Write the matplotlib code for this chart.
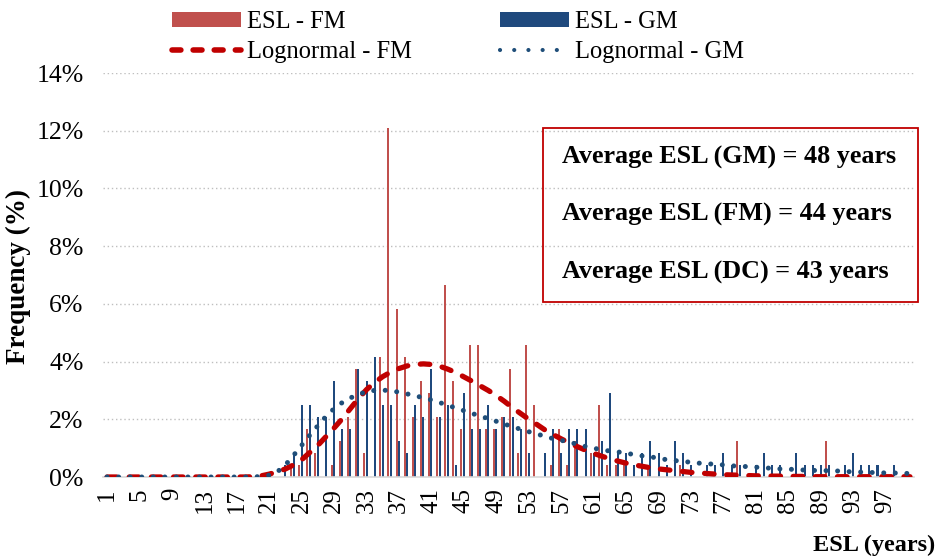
import matplotlib
matplotlib.use("Agg")
import matplotlib.pyplot as plt
from matplotlib.patches import Patch, Rectangle
from matplotlib.lines import Line2D
import numpy as np

categories = list(range(1, 101))
tick_labels = [str(c) for c in range(1, 101, 4)]

esl_fm = [0]*23 + [
    0.42, 0.42, 1.67, 0.83, 0, 0.42, 1.25, 2.08, 3.75, 0.83,   # 24-33
    0, 4.17, 12.08, 5.83, 4.17, 2.08, 3.33, 2.92, 2.08, 6.67,   # 34-43
    3.33, 1.67, 4.58, 4.58, 1.67, 1.67, 2.08, 3.75, 0.83, 4.58, # 44-53
    2.5, 0, 0.42, 1.67, 0.42, 1.25, 0, 0.83, 2.5, 0.42,         # 54-63
    0.42, 0.42, 0, 0, 0.42, 0, 0, 0, 0.42, 0,                    # 64-73
    0, 0, 0, 0, 0, 1.25, 0, 0, 0, 0,                              # 74-83
    0, 0, 0, 0, 0, 0, 1.25, 0, 0, 0,                              # 84-93
    0, 0, 0, 0, 0, 0, 0]                                          # 94-100

esl_gm = [0]*22 + [
    0.42, 0.83, 2.5, 2.5, 2.08, 2.08, 3.33, 1.67, 1.67, 3.75,   # 23-32
    3.33, 4.17, 2.5, 2.5, 1.25, 0.83, 2.5, 2.08, 3.75, 2.08,    # 33-42
    2.5, 0.42, 2.92, 1.67, 1.67, 2.5, 1.67, 2.08, 2.08, 1.67,   # 43-52
    0.83, 0, 0.83, 1.67, 0.83, 1.67, 1.67, 1.67, 0.83, 1.25,    # 53-62
    2.92, 0.83, 0.83, 0.42, 0.83, 1.25, 0.83, 0.42, 1.25, 0.83, # 63-72
    0.42, 0, 0.42, 0.42, 0.83, 0.42, 0.42, 0, 0.42, 0.83,       # 73-82
    0.42, 0.42, 0, 0.83, 0.42, 0.42, 0.42, 0.42, 0, 0.42,       # 83-92
    0.83, 0.42, 0.42, 0.42, 0, 0.42, 0, 0]                      # 93-100

logn_fm = [0]*18 + [
    0.01, 0.04, 0.1, 0.18, 0.28, 0.42, 0.6, 0.85, 1.1, 1.4,      # 19-28
    1.7, 2.02, 2.37, 2.72, 3.03, 3.28, 3.48, 3.64, 3.76, 3.85,  # 29-38
    3.9, 3.92, 3.9, 3.84, 3.74, 3.62, 3.47, 3.32, 3.16, 3.0,    # 39-48
    2.82, 2.62, 2.4, 2.2, 2.0, 1.82, 1.63, 1.47, 1.32, 1.18,    # 49-58
    1.05, 0.93, 0.82, 0.72, 0.63, 0.55, 0.48, 0.42, 0.37, 0.32, # 59-68
    0.28, 0.25, 0.22, 0.19, 0.16, 0.14, 0.12, 0.1, 0.08, 0.07,  # 69-78
    0.06, 0.05, 0.04, 0.04, 0.03, 0.03, 0.02, 0.02, 0.02, 0.01, # 79-88
    0.01, 0.01, 0.01, 0.01, 0.01, 0.01, 0.01, 0.01, 0.01, 0.01, # 89-98
    0.01, 0.01]                                                  # 99-100

logn_gm = [0]*19 + [
    0.02, 0.06, 0.18, 0.42, 0.75, 1.1, 1.45, 1.78, 2.1, 2.37,   # 20-29
    2.58, 2.74, 2.86, 2.96, 3.0, 3.01, 2.99, 2.94, 2.88, 2.81,  # 30-39
    2.75, 2.67, 2.58, 2.49, 2.39, 2.3, 2.2, 2.12, 2.02, 1.93,   # 40-49
    1.83, 1.75, 1.65, 1.57, 1.49, 1.41, 1.33, 1.27, 1.21, 1.13, # 50-59
    1.06, 1.0, 0.94, 0.9, 0.87, 0.82, 0.78, 0.73, 0.7, 0.65,    # 60-69
    0.6, 0.57, 0.54, 0.51, 0.48, 0.46, 0.44, 0.42, 0.39, 0.37,  # 70-79
    0.36, 0.34, 0.32, 0.3, 0.28, 0.27, 0.26, 0.24, 0.23, 0.22,  # 80-89
    0.22, 0.21, 0.19, 0.18, 0.17, 0.16, 0.15, 0.14, 0.14, 0.13, # 90-99
    0.12]                                                        # 100

avg_texts = ["Average ESL (GM) = 48 years",
             "Average ESL (FM) = 44 years",
             "Average ESL (DC) = 43 years"]

RED_BAR = "#C0504D"
BLUE_BAR = "#1F497D"
RED_LINE = "#C00000"
BLUE_LINE = "#1F4E79"
SERIF = ["Liberation Serif", "DejaVu Serif"]

plt.rcParams["font.family"] = SERIF

fig = plt.figure(figsize=(9.46, 5.58), dpi=100)
ax = fig.add_axes([103/946, 1-477/558, (914-103)/946, (477-73)/558])

x = np.array(categories, dtype=float)
ax.bar(x - 0.3, esl_fm, width=0.25, color=RED_BAR, zorder=2, linewidth=0)
ax.bar(x, esl_gm, width=0.25, color=BLUE_BAR, zorder=2, linewidth=0)

ax.plot(x, logn_fm, color=RED_LINE, lw=3.8, linestyle=(0, (1.8, 2.4)),
        dash_capstyle="round", zorder=3)
ax.plot(x, logn_gm, color=BLUE_LINE, lw=3.6, linestyle=(0, (0.01, 2.3)),
        dash_capstyle="round", zorder=4)

ax.set_xlim(0.5, 100.5)
ax.set_ylim(0, 14)
ax.set_yticks(range(0, 15, 2))
ax.set_yticklabels([f"{v}%" for v in range(0, 15, 2)], fontsize=18.5)
ax.set_xticks(range(1, 101, 4))
ax.set_xticklabels(tick_labels, rotation=90, fontsize=18)
ax.tick_params(axis="x", length=0, pad=8)
ax.tick_params(axis="y", length=0, pad=14)

for s in ["left", "right", "top"]:
    ax.spines[s].set_visible(False)
ax.spines["bottom"].set_color("#D9D9D9")
ax.spines["bottom"].set_linewidth(1.2)
ax.grid(axis="y", color="#BFBFBF", linestyle=(0, (1, 2)), linewidth=1.0, zorder=0)
ax.set_axisbelow(True)

fig.text(18/946, 1-276/558, "Frequency (%)", rotation=90, fontsize=19.5,
         fontweight="bold", ha="center", va="center")
fig.text(935/946, 1-545/558, "ESL (years)", fontsize=17.5, fontweight="bold",
         ha="right", va="center")

# annotation box
box = Rectangle((543/946, 1-302/558), (918-543)/946, (302-128)/558,
                transform=fig.transFigure, fill=False, edgecolor=RED_LINE,
                linewidth=1.3, zorder=5)
fig.patches.append(box)
for i, t in enumerate(avg_texts):
    fig.text(562/946, 1-(157+57.5*i)/558, t, fontsize=18.8, fontweight="bold",
             ha="left", va="center")

handles = [Patch(facecolor=RED_BAR, edgecolor="none"),
           Patch(facecolor=BLUE_BAR, edgecolor="none"),
           Line2D([], [], color=RED_LINE, lw=4.0, linestyle=(0, (1.6, 2.2)),
                  dash_capstyle="round"),
           Line2D([], [], color=BLUE_LINE, lw=3.0, linestyle=(0, (0.01, 3.4)),
                  dash_capstyle="round")]
labels = ["ESL - FM", "ESL - GM", "Lognormal - FM", "Lognormal - GM"]
order = [0, 2, 1, 3]
fig.legend([handles[i] for i in order], [labels[i] for i in order],
           loc="upper center", bbox_to_anchor=(458/946, 1.0), ncol=2,
           frameon=False, fontsize=17.7, handlelength=2.8, handleheight=0.55,
           handletextpad=0.25, columnspacing=3.6, labelspacing=0.32,
           borderaxespad=0.0, borderpad=0.45)

fig.savefig("out.png", dpi=100)
